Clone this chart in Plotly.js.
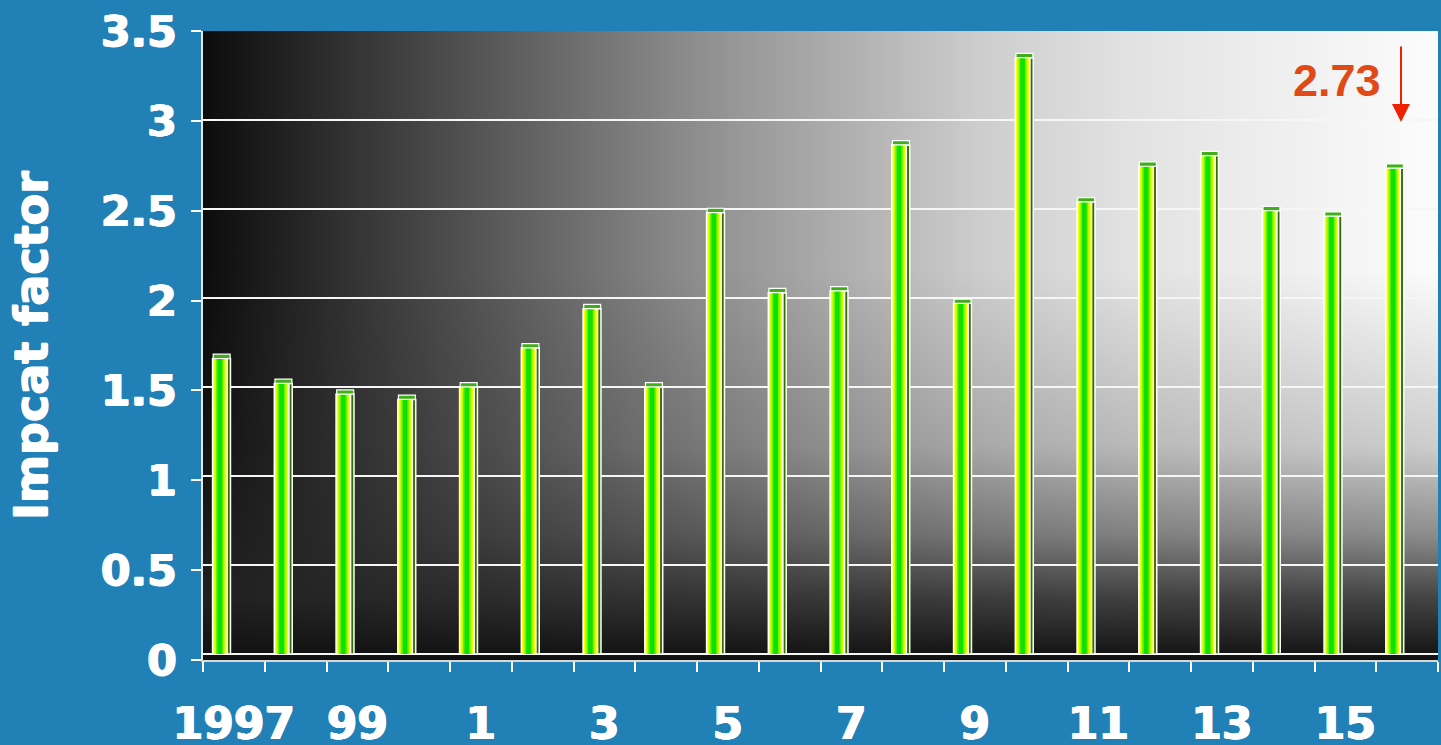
<!DOCTYPE html>
<html>
<head>
<meta charset="utf-8">
<script src="https://cdn.plot.ly/plotly-3.0.1.min.js"></script>
<style>
html,body{margin:0;padding:0;background:#2180b6;}
#chart{width:1441px;height:745px;}
</style>
</head>
<body>
<div id="chart"></div>
<script>
// ---- data ----
const years = [1997,1998,1999,2000,2001,2002,2003,2004,2005,2006,2007,2008,2009,2010,2011,2012,2013,2014,2015,2016];
const impactFactor = [1.66,1.52,1.46,1.43,1.50,1.72,1.94,1.50,2.48,2.03,2.04,2.86,1.97,3.35,2.54,2.74,2.80,2.49,2.46,2.73];
const labelYears = [1997,1999,2001,2003,2005,2007,2009,2011,2013,2015];
const labelText = ['1997','99','1','3','5','7','9','11','13','15'];
const yTicks = [0,0.5,1,1.5,2,2.5,3,3.5];
const yTickText = ['0','0.5','1','1.5','2','2.5','3','3.5'];
const calloutText = '2.73';

// ---- styling ----
const BG = '#2180b6';
const EMB = '0.8px 0 0 #ffffff, -0.8px 0 0 #ffffff, 0 0.5px 0 #ffffff';
const xTickFont = {family:'DejaVu Sans', size:44, color:'#ffffff', weight:'bold', shadow:EMB};
const yTickFont = {family:'DejaVu Sans', size:43, color:'#ffffff', weight:'bold', shadow:EMB};

function stripe(color, offset, width, line){
  return {
    type:'bar', x:years, y:impactFactor, offset:offset, width:width,
    marker:{color:color, line:{color:line?'#ffffff':'rgba(0,0,0,0)', width:line?1.5:0}},
    hoverinfo:'skip', showlegend:false
  };
}

const traces = [
  stripe('#2f6e05', -0.115, 0.06, true),    // side face
  stripe('#ffff00', -0.345, 0.235, true),   // front face
  stripe('#c8ff00', -0.315, 0.175, false),
  stripe('#66f500', -0.29, 0.125, false),
  stripe('#10e000', -0.265, 0.075, false),
  { // top cap
    type:'bar', x:years, base:impactFactor, y:impactFactor.map(()=>0.024),
    offset:-0.335, width:0.275,
    marker:{color:'#3fae18', line:{color:'#ffffff', width:1.2}},
    hoverinfo:'skip', showlegend:false
  },
  { // carrier for the labelled y axis
    type:'scatter', mode:'markers', x:[years[0]], y:[0], yaxis:'y2',
    marker:{opacity:0}, hoverinfo:'skip', showlegend:false
  }
];

const svg = "<svg xmlns='http://www.w3.org/2000/svg' width='1235' height='629' viewBox='0 0 1235 629' preserveAspectRatio='none'>"+
 "<defs>"+
 "<linearGradient id='h' x1='0' y1='0' x2='1' y2='0'>"+
 "<stop offset='0' stop-color='#0c0c0c'/><stop offset='0.24' stop-color='#5a5a5a'/><stop offset='0.4' stop-color='#8e8e8e'/>"+
 "<stop offset='0.63' stop-color='#cdcdcd'/><stop offset='0.75' stop-color='#e2e2e2'/><stop offset='1' stop-color='#fcfcfc'/></linearGradient>"+
 "<linearGradient id='v' x1='0' y1='0' x2='0' y2='1'>"+
 "<stop offset='0.38' stop-color='#262626' stop-opacity='0'/><stop offset='0.66' stop-color='#262626' stop-opacity='0.22'/>"+
 "<stop offset='0.8' stop-color='#262626' stop-opacity='0.52'/><stop offset='0.9' stop-color='#242424' stop-opacity='0.85'/>"+
 "<stop offset='1' stop-color='#101010' stop-opacity='1'/></linearGradient>"+
 "</defs>"+
 "<rect x='0' y='0' width='1235' height='629' fill='url(#h)'/>"+
 "<rect x='0' y='0' width='1235' height='629' fill='url(#v)'/>"+
 "</svg>";

const layout = {
  width:1441, height:745,
  paper_bgcolor:BG, plot_bgcolor:'rgba(0,0,0,0)',
  margin:{l:203, r:3, t:31, b:85},
  barmode:'overlay',
  showlegend:false,
  xaxis:{
    type:'linear', range:[years[0]-0.5, years[years.length-1]+0.5],
    tickmode:'array', tickvals:labelYears, ticktext:labelText,
    ticks:'', tickfont:xTickFont, ticklabelstandoff:24,
    minor:{ticks:'outside', tick0:years[0]-0.5, dtick:1, ticklen:10, tickcolor:'#ffffff', tickwidth:2, showgrid:false},
    showgrid:false, zeroline:false,
    showline:true, linecolor:'#d8d8d8', linewidth:2,
    fixedrange:true
  },
  yaxis:{
    range:[-0.034, 3.5], tickmode:'array', tickvals:yTicks,
    showticklabels:false, ticks:'',
    showgrid:true, gridcolor:'#f6f6f6', gridwidth:1.8,
    zeroline:false, showline:false, fixedrange:true
  },
  yaxis2:{
    overlaying:'y', side:'left', range:[0,3.5],
    tickmode:'array', tickvals:yTicks, ticktext:yTickText,
    ticks:'outside', ticklen:10, tickcolor:'#ffffff', tickwidth:2,
    tickfont:yTickFont, ticklabelstandoff:5,
    showgrid:false, zeroline:false,
    showline:true, linecolor:'#e8e8e8', linewidth:2.5, fixedrange:true
  },
  images:[{
    source:'data:image/svg+xml;charset=utf-8,'+encodeURIComponent(svg),
    xref:'paper', yref:'paper', x:0, y:1, sizex:1, sizey:1,
    xanchor:'left', yanchor:'top', sizing:'stretch', layer:'below'
  }],
  annotations:[
    {
      text:'Impcat factor', xref:'paper', yref:'paper',
      x:(31-203)/1235, y:(660-346)/629, xanchor:'center', yanchor:'middle',
      textangle:-90, showarrow:false,
      font:{family:'DejaVu Sans', size:46, color:'#ffffff', weight:'bold', shadow:EMB}
    },
    {
      text:calloutText, xref:'paper', yref:'paper',
      x:(1337-203)/1235, y:(660-80)/629, xanchor:'center', yanchor:'middle',
      showarrow:false,
      font:{family:'Liberation Sans', size:45, color:'#e04a18', weight:'bold'}
    },
    {
      text:'', xref:'paper', yref:'paper',
      x:(1401-203)/1235, y:(660-122)/629, ax:0, ay:-77,
      showarrow:true, arrowhead:2, arrowsize:1.8, arrowwidth:2, arrowcolor:'#ee2200'
    }
  ]
};

Plotly.newPlot('chart', traces, layout, {displayModeBar:false, staticPlot:true});
</script>
</body>
</html>
